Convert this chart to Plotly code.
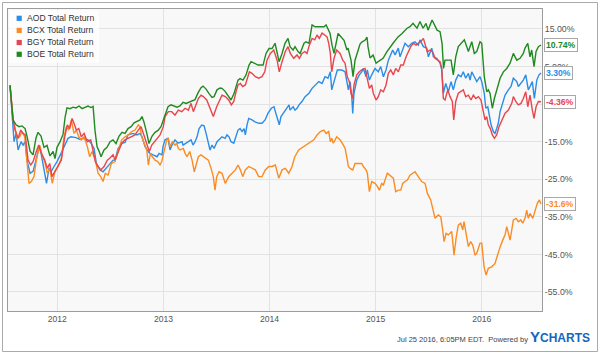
import plotly.graph_objects as go

# ---------------- data (decimal years, total return %) ----------------
AOD_T = [2011.554, 2011.583, 2011.592, 2011.611, 2011.630, 2011.658, 2011.677, 2011.696, 2011.714, 2011.743,
         2011.771, 2011.799, 2011.828, 2011.846, 2011.875, 2011.898, 2011.922, 2011.941, 2011.969, 2011.997,
         2012.035, 2012.070, 2012.101, 2012.129, 2012.176, 2012.214, 2012.242, 2012.289, 2012.318, 2012.346,
         2012.368, 2012.403, 2012.431, 2012.459, 2012.497, 2012.525, 2012.544, 2012.572, 2012.610, 2012.638,
         2012.666, 2012.714, 2012.751, 2012.779, 2012.798, 2012.827, 2012.855, 2012.874, 2012.902, 2012.940,
         2012.959, 2012.987, 2012.996, 2013.015, 2013.043, 2013.062, 2013.081, 2013.109, 2013.138, 2013.175,
         2013.185, 2013.213, 2013.232, 2013.260, 2013.279, 2013.298, 2013.317, 2013.336, 2013.361, 2013.383,
         2013.402, 2013.423, 2013.439, 2013.458, 2013.477, 2013.505, 2013.534, 2013.552, 2013.581, 2013.599,
         2013.618, 2013.637, 2013.663, 2013.684, 2013.703, 2013.722, 2013.741, 2013.760, 2013.772, 2013.788,
         2013.804, 2013.835, 2013.863, 2013.901, 2013.929, 2013.958, 2013.986, 2014.017, 2014.042, 2014.055,
         2014.071, 2014.092, 2014.108, 2014.137, 2014.165, 2014.184, 2014.193, 2014.222, 2014.240, 2014.259,
         2014.278, 2014.306, 2014.335, 2014.353, 2014.372, 2014.401, 2014.432, 2014.464, 2014.495, 2014.523,
         2014.551, 2014.573, 2014.586, 2014.617, 2014.639, 2014.680, 2014.712, 2014.743, 2014.759, 2014.775,
         2014.784, 2014.796, 2014.822, 2014.846, 2014.869, 2014.884, 2014.910, 2014.922, 2014.941, 2014.963,
         2014.994, 2015.025, 2015.048, 2015.073, 2015.098, 2015.120, 2015.136, 2015.161, 2015.183, 2015.214,
         2015.230, 2015.255, 2015.277, 2015.308, 2015.340, 2015.371, 2015.402, 2015.418, 2015.450, 2015.482,
         2015.497, 2015.529, 2015.544, 2015.576, 2015.591, 2015.607, 2015.623, 2015.638, 2015.661, 2015.685,
         2015.711, 2015.732, 2015.755, 2015.779, 2015.805, 2015.826, 2015.849, 2015.874, 2015.890, 2015.906,
         2015.930, 2015.953, 2015.984, 2016.000, 2016.024, 2016.038, 2016.057, 2016.069, 2016.088, 2016.109,
         2016.125, 2016.141, 2016.156, 2016.173, 2016.188, 2016.220, 2016.251, 2016.276, 2016.298, 2016.330,
         2016.345, 2016.370, 2016.392, 2016.415, 2016.439, 2016.455, 2016.477, 2016.496, 2016.519, 2016.540,
         2016.559]
AOD_V = [0, -10.1, -15, -12.8, -17.2, -15, -15.9, -15, -19.9, -23.4,
         -22.9, -19.9, -16.3, -18, -22.9, -26.1, -22, -23, -21.6, -20.3,
         -18.1, -15.9, -14.1, -13.7, -13.9, -14.4, -14.1, -14.5, -15.4, -16.8,
         -20.8, -22.5, -23, -22.1, -20.8, -19.9, -19.9, -16.8, -15.4, -15.2,
         -13.2, -12.8, -13.2, -12.8, -13.7, -16.3, -17.6, -18.1, -18.5, -19,
         -18.1, -18.5, -16.3, -14.5, -14.1, -17.2, -15.9, -14.5, -15.4, -15,
         -15.9, -15.4, -15, -14.5, -15.9, -15, -13.7, -11.5, -10.6, -10.8,
         -12.8, -15.9, -17.2, -15.9, -16.8, -15, -14.1, -13.7, -14.1, -13.2,
         -13.7, -15, -15.4, -13.7, -11.9, -11.5, -12.3, -11.5, -13.2, -10.5,
         -8.8, -9.2, -9.7, -10.1, -10.1, -9.2, -7.4, -6.1, -5.7, -7,
         -8.3, -10.5, -8.3, -7, -6.1, -5.2, -6.6, -5.7, -6.6, -6.1,
         -5.2, -4.3, -3, -2.6, -2.1, -0.8, 0.1, 1, 0.5, 2.3,
         1.9, 3.6, -1.2, 2.3, 4.1, 4.1, 3.6, -1.2, 1, -3,
         -7.5, -2.1, 1.4, 2.8, 3.6, 4.5, 2.3, 4.1, 1.4, 2.8,
         4.5, 3.6, 5, 2.3, 4.1, 6.7, 7.6, 9.4, 8.1, 9.9,
         7.6, 9.4, 11.2, 10.3, 11.2, 11.6, 10.7, 12.1, 10.3, 9.9,
         7.6, 9.9, 7.6, 7.2, 6.7, 5.9, 4.1, -2.1, 0.5, -1.7,
         1, -1.2, 1.4, 2.8, 2.3, 3.6, 1.9, 3.2, 1.4, 3.6,
         2.3, 1, 2.3, 1, -2.1, -6.1, -5.7, -7.9, -10.5, -12.3,
         -12.8, -11.5, -10.1, -7, -5.7, -2.6, -1.2, -0.3, 1.9, 1,
         -0.3, 0.5, 1.4, 2.8, -1.2, -0.3, 1, -3.5, 1.4, 2.8,
         3.3]

BCX_T = [2011.554, 2011.583, 2011.599, 2011.623, 2011.646, 2011.667, 2011.693, 2011.717, 2011.733, 2011.755,
         2011.780, 2011.802, 2011.834, 2011.856, 2011.881, 2011.906, 2011.928, 2011.953, 2011.976, 2012.007,
         2012.038, 2012.063, 2012.085, 2012.107, 2012.132, 2012.157, 2012.179, 2012.202, 2012.226, 2012.252,
         2012.283, 2012.305, 2012.327, 2012.358, 2012.384, 2012.409, 2012.431, 2012.452, 2012.478, 2012.509,
         2012.544, 2012.575, 2012.607, 2012.638, 2012.669, 2012.701, 2012.732, 2012.763, 2012.779, 2012.795,
         2012.820, 2012.843, 2012.858, 2012.877, 2012.895, 2012.921, 2012.946, 2012.968, 2012.984, 2013.009,
         2013.031, 2013.046, 2013.062, 2013.084, 2013.109, 2013.125, 2013.140, 2013.156, 2013.188, 2013.204,
         2013.222, 2013.248, 2013.270, 2013.291, 2013.314, 2013.329, 2013.354, 2013.376, 2013.399, 2013.423,
         2013.449, 2013.470, 2013.486, 2013.502, 2013.524, 2013.552, 2013.583, 2013.615, 2013.647, 2013.678,
         2013.703, 2013.725, 2013.747, 2013.772, 2013.804, 2013.835, 2013.866, 2013.898, 2013.929, 2013.960,
         2013.993, 2014.024, 2014.055, 2014.087, 2014.118, 2014.149, 2014.181, 2014.212, 2014.238, 2014.275,
         2014.322, 2014.369, 2014.417, 2014.448, 2014.479, 2014.511, 2014.533, 2014.558, 2014.573, 2014.586,
         2014.601, 2014.633, 2014.665, 2014.696, 2014.712, 2014.730, 2014.743, 2014.759, 2014.784, 2014.806,
         2014.837, 2014.869, 2014.884, 2014.910, 2014.922, 2014.941, 2014.963, 2014.994, 2015.016, 2015.035,
         2015.057, 2015.073, 2015.110, 2015.136, 2015.167, 2015.189, 2015.214, 2015.237, 2015.255, 2015.277,
         2015.299, 2015.324, 2015.355, 2015.371, 2015.402, 2015.434, 2015.466, 2015.487, 2015.519, 2015.541,
         2015.560, 2015.591, 2015.614, 2015.632, 2015.645, 2015.664, 2015.685, 2015.717, 2015.739, 2015.758,
         2015.779, 2015.802, 2015.821, 2015.833, 2015.852, 2015.874, 2015.896, 2015.915, 2015.937, 2015.953,
         2015.984, 2016.000, 2016.022, 2016.041, 2016.062, 2016.094, 2016.125, 2016.151, 2016.173, 2016.198,
         2016.220, 2016.236, 2016.251, 2016.267, 2016.283, 2016.298, 2016.324, 2016.345, 2016.368, 2016.386,
         2016.408, 2016.424, 2016.439, 2016.455, 2016.481, 2016.503, 2016.524, 2016.543, 2016.559]
BCX_V = [0, -9.2, -11, -14.1, -13.7, -12.3, -13.7, -21.6, -26.1, -25.6,
         -24.3, -19.9, -15.9, -18.5, -20.3, -23.4, -22.1, -26.1, -23, -21.6,
         -19.4, -13.7, -11, -11.9, -9.2, -12.8, -11.9, -13.7, -14.5, -13.7,
         -16.3, -19, -17.6, -19.9, -23.4, -24.3, -25.6, -23.4, -23.9, -20.8,
         -20.3, -17.2, -14.5, -13.7, -13.2, -12.3, -11.9, -10.5, -11, -13.7,
         -15.4, -17.2, -21.2, -18.1, -19, -19.9, -20.3, -21.2, -20.3, -17.2,
         -14.5, -14.1, -16.3, -15, -15.9, -15.4, -16.8, -17.2, -16.8, -18.1,
         -19, -17.6, -19.9, -23, -20.3, -19, -18.5, -18.9, -19.4, -19.9,
         -22.1, -24.3, -27.9, -24.3, -23, -23.4, -26.1, -24.3, -23.4, -22.5,
         -21.2, -22.5, -24.3, -22.5, -21.6, -22.1, -22.5, -24.3, -24.3, -22.5,
         -21.6, -21.6, -21.2, -24.7, -22.5, -22.1, -23.4, -21.6, -19, -17.2,
         -16.3, -15.4, -14.5, -13.2, -12.3, -11.9, -12.8, -12.3, -15, -14.1,
         -15.4, -13.7, -14.5, -15.9, -16.8, -19.4, -21.6, -22.1, -22.5, -20.8,
         -20.8, -20.8, -21.6, -22.5, -23.4, -28.3, -25.6, -26.1, -26.9, -27.9,
         -26.1, -26.5, -23.4, -23.9, -24.7, -28.3, -27.9, -27.9, -26.1, -25.6,
         -25.2, -23.9, -23.4, -23, -24.3, -25.6, -26.1, -28.7, -30.5, -32.8,
         -35.4, -34.5, -35, -38.5, -41.6, -39.4, -39.8, -38.9, -45.2, -40.7,
         -37.2, -36.7, -38.5, -36.3, -39.4, -42.9, -41.6, -42.5, -45.2, -44.7,
         -42, -42, -48.3, -50.5, -48.7, -48.3, -47.4, -44.7, -43, -41.2,
         -39.8, -37.6, -39.8, -41.2, -38.5, -35.8, -35.4, -36.3, -35.8, -36.7,
         -35.4, -33.2, -35.4, -34.1, -35.4, -33.2, -31.4, -30.5, -31.6]

BGY_T = [2011.554, 2011.583, 2011.601, 2011.630, 2011.655, 2011.677, 2011.698, 2011.724, 2011.749, 2011.771,
         2011.802, 2011.825, 2011.849, 2011.881, 2011.906, 2011.928, 2011.950, 2011.976, 2012.007, 2012.038,
         2012.070, 2012.094, 2012.117, 2012.139, 2012.157, 2012.179, 2012.202, 2012.226, 2012.252, 2012.283,
         2012.315, 2012.337, 2012.358, 2012.384, 2012.409, 2012.440, 2012.471, 2012.494, 2012.525, 2012.544,
         2012.575, 2012.607, 2012.638, 2012.669, 2012.701, 2012.732, 2012.763, 2012.789, 2012.811, 2012.843,
         2012.867, 2012.890, 2012.914, 2012.937, 2012.968, 2012.999, 2013.015, 2013.046, 2013.078, 2013.109,
         2013.140, 2013.173, 2013.204, 2013.235, 2013.260, 2013.282, 2013.307, 2013.329, 2013.354, 2013.376,
         2013.408, 2013.439, 2013.470, 2013.502, 2013.534, 2013.552, 2013.583, 2013.615, 2013.640, 2013.663,
         2013.684, 2013.703, 2013.725, 2013.747, 2013.772, 2013.788, 2013.810, 2013.835, 2013.866, 2013.898,
         2013.929, 2013.955, 2013.976, 2014.008, 2014.040, 2014.071, 2014.092, 2014.118, 2014.149, 2014.174,
         2014.196, 2014.228, 2014.259, 2014.281, 2014.306, 2014.332, 2014.353, 2014.375, 2014.401, 2014.426,
         2014.448, 2014.469, 2014.495, 2014.520, 2014.542, 2014.558, 2014.573, 2014.586, 2014.608, 2014.633,
         2014.665, 2014.690, 2014.712, 2014.733, 2014.752, 2014.768, 2014.784, 2014.796, 2014.822, 2014.846,
         2014.869, 2014.900, 2014.916, 2014.941, 2014.963, 2014.978, 2015.004, 2015.025, 2015.048, 2015.073,
         2015.098, 2015.120, 2015.142, 2015.167, 2015.189, 2015.214, 2015.237, 2015.261, 2015.287, 2015.308,
         2015.331, 2015.355, 2015.381, 2015.402, 2015.425, 2015.450, 2015.466, 2015.487, 2015.513, 2015.538,
         2015.560, 2015.582, 2015.607, 2015.623, 2015.638, 2015.654, 2015.680, 2015.701, 2015.723, 2015.736,
         2015.755, 2015.779, 2015.805, 2015.826, 2015.849, 2015.874, 2015.899, 2015.921, 2015.943, 2015.968,
         2015.993, 2016.015, 2016.031, 2016.047, 2016.062, 2016.081, 2016.100, 2016.119, 2016.141, 2016.163,
         2016.188, 2016.220, 2016.251, 2016.283, 2016.298, 2016.321, 2016.345, 2016.370, 2016.392, 2016.415,
         2016.434, 2016.455, 2016.477, 2016.493, 2016.512, 2016.534, 2016.559]
BGY_V = [0, -9.2, -11.9, -14.1, -11.9, -12.8, -13.2, -19.9, -21.2, -20.3,
         -17.6, -15.9, -18.1, -19.9, -22.1, -20.8, -24.3, -23, -21.6, -19.9,
         -13.7, -10.5, -11.5, -8.8, -10.1, -11.9, -11.5, -13.7, -12.8, -15,
         -14.5, -17.6, -20.3, -21.6, -22.5, -21.6, -19.9, -19.4, -18.5, -19.9,
         -17.6, -15.4, -14.5, -14.1, -13.7, -13.2, -11.9, -11, -12.8, -15.4,
         -17.6, -15.9, -15, -14.1, -13.2, -11, -8.3, -7, -7, -7.9,
         -6.6, -7, -6.1, -6.6, -4.8, -7, -4.8, -3.5, -2.6, -3,
         -3.9, -6.1, -8.3, -5.7, -3.9, -2.6, -3, -3.9, -5.2, -4.3,
         -1.7, 0.1, 0.5, -0.3, 0.1, 1.4, 3.6, 3.2, 2.3, 1.9,
         2.3, 3.6, 6.7, 8.5, 9.4, 6.7, 3.6, 6.3, 9, 10.3,
         8.5, 7.2, 8.1, 7.2, 8.5, 9, 8.5, 10.7, 12.5, 12.1,
         13.4, 12.5, 13.9, 13.4, 12.9, 11.2, 8.5, 3.6, 7.2, 9.4,
         8.5, 6.7, 5.9, 2.3, 1, -2.1, -3.5, 0.1, 2.8, 3.6,
         4.1, 4.5, 2.3, -0.8, 0.1, -2.1, -3.9, -3, -1.2, -1.7,
         0.1, 3.2, 4.1, 2.8, 4.5, 3.6, 5.4, 5.4, 7.6, 9,
         10.3, 11.2, 10.7, 11.2, 11.6, 12.5, 10.7, 8.9, 9.4, 8.9,
         7.2, 6.7, 6.3, 4.5, -3.5, -3.9, -1.2, -3, -4.3, -9.2,
         -4.3, -2.1, -1.7, -1.2, -3, -2.6, -3.9, -2.6, -3.5, -3,
         -3.9, -6.6, -9.2, -8.3, -10.5, -11.5, -13.2, -14.1, -13.2, -11,
         -9.2, -7.4, -6.6, -4.8, -3, -4.3, -5.2, -4.8, -3.5, -1.7,
         -5.7, -2.6, -6.6, -8.8, -5.7, -4.3, -4.36]

BOE_T = [2011.554, 2011.583, 2011.611, 2011.639, 2011.667, 2011.696, 2011.714, 2011.743, 2011.771, 2011.799,
         2011.818, 2011.846, 2011.875, 2011.903, 2011.931, 2011.960, 2011.978, 2011.997, 2012.026, 2012.054,
         2012.073, 2012.091, 2012.120, 2012.148, 2012.176, 2012.205, 2012.233, 2012.261, 2012.289, 2012.318,
         2012.337, 2012.355, 2012.374, 2012.393, 2012.412, 2012.440, 2012.468, 2012.497, 2012.525, 2012.553,
         2012.582, 2012.610, 2012.638, 2012.666, 2012.695, 2012.723, 2012.751, 2012.779, 2012.798, 2012.817,
         2012.845, 2012.864, 2012.893, 2012.921, 2012.949, 2012.977, 2012.996, 2013.015, 2013.043, 2013.071,
         2013.100, 2013.128, 2013.156, 2013.185, 2013.213, 2013.241, 2013.270, 2013.298, 2013.326, 2013.354,
         2013.373, 2013.402, 2013.430, 2013.458, 2013.477, 2013.505, 2013.534, 2013.552, 2013.581, 2013.609,
         2013.637, 2013.665, 2013.703, 2013.722, 2013.750, 2013.779, 2013.807, 2013.826, 2013.854, 2013.892,
         2013.939, 2013.967, 2013.995, 2014.024, 2014.052, 2014.071, 2014.090, 2014.118, 2014.146, 2014.174,
         2014.193, 2014.222, 2014.240, 2014.269, 2014.288, 2014.325, 2014.344, 2014.372, 2014.382, 2014.401,
         2014.429, 2014.448, 2014.476, 2014.514, 2014.533, 2014.551, 2014.570, 2014.589, 2014.608, 2014.646,
         2014.674, 2014.702, 2014.730, 2014.740, 2014.768, 2014.787, 2014.806, 2014.825, 2014.853, 2014.872,
         2014.900, 2014.919, 2014.928, 2014.947, 2014.976, 2015.004, 2015.041, 2015.070, 2015.107, 2015.136,
         2015.164, 2015.211, 2015.249, 2015.296, 2015.324, 2015.352, 2015.390, 2015.418, 2015.447, 2015.475,
         2015.494, 2015.532, 2015.560, 2015.579, 2015.607, 2015.626, 2015.640, 2015.654, 2015.682, 2015.711,
         2015.732, 2015.755, 2015.779, 2015.805, 2015.836, 2015.859, 2015.874, 2015.906, 2015.930, 2015.953,
         2015.984, 2016.000, 2016.024, 2016.047, 2016.062, 2016.078, 2016.100, 2016.119, 2016.141, 2016.173,
         2016.204, 2016.236, 2016.267, 2016.298, 2016.330, 2016.361, 2016.392, 2016.408, 2016.434, 2016.455,
         2016.471, 2016.493, 2016.512, 2016.534, 2016.559]
BOE_V = [0, -9.2, -10.5, -11, -10.8, -11.5, -13.5, -17.5, -18.5, -14,
         -12.5, -13.5, -16.5, -16, -18.8, -17.6, -19.5, -16.5, -15, -13,
         -8.5, -6, -6.2, -5.8, -6, -5.5, -6.2, -5.8, -5.5, -5.9,
         -5.6, -12, -16.3, -17.5, -19, -17.2, -16.5, -15, -14.5, -15.5,
         -13.5, -12.5, -12.8, -11.5, -11, -10, -9.5, -9.2, -8.3, -9.8,
         -13, -15.5, -13.5, -12.5, -12, -11, -9.5, -7.9, -5.7, -5.2,
         -5.5, -5.8, -5.5, -4.5, -4.8, -4.5, -4.2, -3.8, -2, -0.6,
         -0.2, -1, -2.2, -3.2, -3, -1.2, -0.7, -0.8, -1.6, -2.8,
         -3.9, -2.2, 1.4, 1.8, 1.4, 2.8, 5.4, 6.3, 5.9, 5.4,
         5.4, 8.5, 9.8, 9.8, 11.2, 9, 6.3, 8.5, 11.2, 12.5,
         10.3, 9.4, 10.3, 9, 8.5, 11.2, 11.6, 11.2, 13.4, 16.1,
         15.6, 15.6, 15.6, 15.6, 16.1, 15.2, 13.9, 10.7, 8.5, 13.8,
         13, 12, 9.4, 9.9, 6.7, 2.3, 6.7, 8.5, 11, 11.6,
         12, 12.8, 10.3, 7.3, 8.1, 5.9, 6.7, 7.2, 9, 10.3,
         11.2, 12.9, 13.8, 15.2, 15.6, 16.5, 15.2, 17, 15.2, 16.5,
         14.7, 17.4, 16, 14.7, 14.3, 11.2, 4.5, 6.7, 6.7, 6.7,
         2.8, 7.6, 10.3, 11.2, 12.1, 10.3, 9, 11.6, 8.5, 9,
         11.6, 11.2, 2.3, -1.7, -1.2, -2.1, -6.1, -3.5, -1.2, 1.9,
         3.6, 4.5, 5.9, 8.5, 6.7, 7.2, 8.5, 9.9, 11.2, 7.6,
         9.4, 5, 9, 10.3, 10.74]

SERIES_NAMES = ["AOD Total Return", "BCX Total Return", "BGY Total Return", "BOE Total Return"]
END_LABELS = ["3.30%", "-31.6%", "-4.36%", "10.74%"]
COLORS = ["#2b8de6", "#fb8c22", "#e8454c", "#1f8a1f"]

YEAR_TICKS = [2012, 2013, 2014, 2015, 2016]
YEAR_LABELS = ["2012", "2013", "2014", "2015", "2016"]
Y_TICKS = [15, 5, -5, -15, -25, -35, -45, -55]
Y_TICK_LABELS = ["15.00%", "5.00%", "-5.00%", "-15.0%", "-25.0%", "-35.0%", "-45.0%", "-55.0%"]

X_RANGE = [2011.535, 2016.568]
Y_RANGE = [-60.06, 20.32]

# ---------------- layout helpers ----------------
W, H = 600, 355
ML, MR, MT, MB = 8, 58, 9, 44
PW, PH = W - ML - MR, H - MT - MB


def fx(px):
    return (px - ML) / PW


def fy(py):
    return (H - MB - py) / PH


FONT = "Arial, Liberation Sans, sans-serif"

fig = go.Figure()
series = [(AOD_T, AOD_V), (BCX_T, BCX_V), (BGY_T, BGY_V), (BOE_T, BOE_V)]
for (t, v), name, col in zip(series, SERIES_NAMES, COLORS):
    fig.add_trace(go.Scatter(x=t, y=v, mode="lines", name=name,
                             line=dict(color=col, width=1.4),
                             showlegend=False, hoverinfo="skip"))

shapes = []
annotations = []

# outer frame
shapes.append(dict(type="rect", xref="paper", yref="paper",
                   x0=fx(2.5), x1=fx(597.5), y0=fy(351.5), y1=fy(2.5),
                   line=dict(color="#aaaaaa", width=1), fillcolor="rgba(0,0,0,0)", layer="above"))
# legend box
shapes.append(dict(type="rect", xref="paper", yref="paper",
                   x0=fx(9), x1=fx(99), y0=fy(63), y1=fy(10),
                   line=dict(width=0), fillcolor="rgba(255,255,255,0.75)", layer="above"))
row_y = [18.3, 30.4, 42.5, 54.3]
for name, col, ry in zip(SERIES_NAMES, COLORS, row_y):
    shapes.append(dict(type="rect", xref="paper", yref="paper",
                       x0=fx(16.6), x1=fx(21.8), y0=fy(ry + 2.6), y1=fy(ry - 2.6),
                       line=dict(width=0), fillcolor=col, layer="above"))
    annotations.append(dict(xref="paper", yref="paper", x=fx(24.5), y=fy(ry),
                            xanchor="left", yanchor="middle", showarrow=False,
                            text=name, font=dict(family=FONT, size=8.6, color="#333")))

# end-value labels
for (t, v), lab, col in zip(series, END_LABELS, COLORS):
    annotations.append(dict(xref="paper", yref="y", x=1, y=v[-1], xshift=2,
                            xanchor="left", yanchor="middle", showarrow=False,
                            text="<b>" + lab + "</b>", bgcolor="white",
                            bordercolor="#a8a8a8", borderwidth=1, borderpad=1,
                            font=dict(family=FONT, size=8.6, color=col)))

# footer
annotations.append(dict(xref="paper", yref="paper", x=fx(592), y=fy(336),
                        xanchor="right", yanchor="middle", showarrow=False,
                        text=("<span style='font-size:7.5px;color:#444'>Jul 25 2016, 6:05PM EDT.&nbsp; Powered by </span>"
                              "<b><span style='font-size:15px;color:#1466c0'>Y</span>"
                              "<span style='font-size:12px;color:#1466c0'>CHARTS</span></b>"),
                        font=dict(family=FONT, size=9, color="#444")))

fig.update_layout(
    width=W, height=H,
    margin=dict(l=ML, r=MR, t=MT, b=MB, pad=0),
    paper_bgcolor="white", plot_bgcolor="#f8f8f8",
    showlegend=False,
    font=dict(family=FONT, color="#555"),
    shapes=shapes, annotations=annotations,
)
fig.update_xaxes(range=X_RANGE, tickvals=YEAR_TICKS, ticktext=YEAR_LABELS,
                 showgrid=True, gridcolor="#e2e2e2", gridwidth=1,
                 showline=True, linecolor="#9c9c9c", linewidth=1, mirror=True,
                 ticks="", zeroline=False, tickfont=dict(family=FONT, size=8.6, color="#555"))
fig.update_yaxes(range=Y_RANGE, side="right", tickvals=Y_TICKS, ticktext=Y_TICK_LABELS,
                 showgrid=True, gridcolor="#e2e2e2", gridwidth=1,
                 showline=True, linecolor="#9c9c9c", linewidth=1, mirror=True,
                 ticks="", zeroline=False, tickfont=dict(family=FONT, size=8.8, color="#555"))

# the page's default 8px body margin would shift the figure; remove it
fig.write_html("out.html", config={"displayModeBar": False},
               post_script="document.body.style.margin='0';")
